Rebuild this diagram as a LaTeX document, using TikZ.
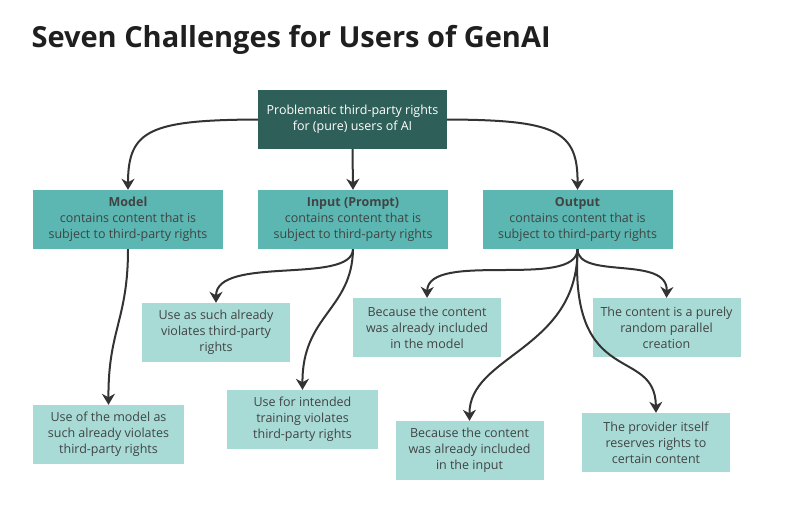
\documentclass[tikz,border=0pt]{standalone}
\usepackage{fontspec}
\setmainfont{Open Sans}
\usetikzlibrary{arrows.meta}
\definecolor{topfill}{HTML}{2F5F59}
\definecolor{midfill}{HTML}{5CB6B1}
\definecolor{lowfill}{HTML}{A9DBD6}
\definecolor{txtdark}{HTML}{404444}
\definecolor{linecol}{HTML}{333333}
\tikzset{
  box/.style={rectangle, inner sep=0pt, align=center, font=\fontsize{12.5}{16}\selectfont},
  topbox/.style={box, fill=topfill, text=white, minimum width=189pt, minimum height=59pt},
  midbox/.style={box, fill=midfill, text=txtdark, minimum width=190pt, minimum height=59pt},
  lowbox/.style={box, fill=lowfill, text=txtdark, minimum width=148pt, minimum height=59pt},
  conn/.style={draw=linecol, line width=2pt, -{Stealth[length=11pt,width=13pt,inset=3.5pt]}},
}
\begin{document}
\begin{tikzpicture}[x=1pt,y=-1pt]
\useasboundingbox[fill=white] (0,0) rectangle (800,509);
\node[anchor=west, font=\fontsize{29}{34}\selectfont\bfseries, text=black!88] (title) at (28,40) {Seven Challenges for Users of GenAI};
\node[topbox] (top) at (352.5,119.5) {Problematic third-party rights\\for (pure) users of AI};
\node[midbox] (model) at (128,219.5) {\textbf{Model}\\contains content that is\\subject to third-party rights};
\node[midbox] (input) at (353,219.5) {\textbf{Input (Prompt)}\\contains content that is\\subject to third-party rights};
\node[midbox] (output) at (577.5,219.5) {\textbf{Output}\\contains content that is\\subject to third-party rights};
\node[lowbox] (asuch) at (216,332.5) {Use as such already\\violates third-party\\rights};
\node[lowbox] (inmodel) at (427,327.5) {Because the content\\was already included\\in the model};
\node[lowbox] (random) at (666.5,327.5) {The content is a purely\\random parallel\\creation};
\node[lowbox, minimum width=151pt] (usemodel) at (108.5,434.5) {Use of the model as\\such already violates\\third-party rights};
\node[lowbox, minimum width=151pt] (training) at (302.5,419.5) {Use for intended\\training violates\\third-party rights};
\node[lowbox] (ininput) at (469.5,450.5) {Because the content\\was already included\\in the input};
\node[lowbox] (provider) at (656,442.5) {The provider itself\\reserves rights to\\certain content};
% connectors
\draw[conn] (top.west) .. controls (150,120) and (128,130) .. (model.north);
\draw[conn] (top.south) -- (input.north);
\draw[conn] (top.east) .. controls (555,120) and (578,130) .. (output.north);
\draw[conn] (model.south) .. controls (128,320) and (108,330) .. (usemodel.north);
\draw[conn] (input.south) .. controls (352,285) and (216,255) .. (asuch.north);
\draw[conn] (input.south) .. controls (352,310) and (302,315) .. (training.north);
\draw[conn] (output.south) .. controls (577,290) and (428,250) .. (inmodel.north);
\draw[conn] (output.south) .. controls (578,280) and (668,255) .. (random.north);
\draw[conn] (output.south) .. controls (578,350) and (469,355) .. (ininput.north);
\draw[conn] (output.south) .. controls (570,390) and (655,345) .. (provider.north);
\end{tikzpicture}
\end{document}
